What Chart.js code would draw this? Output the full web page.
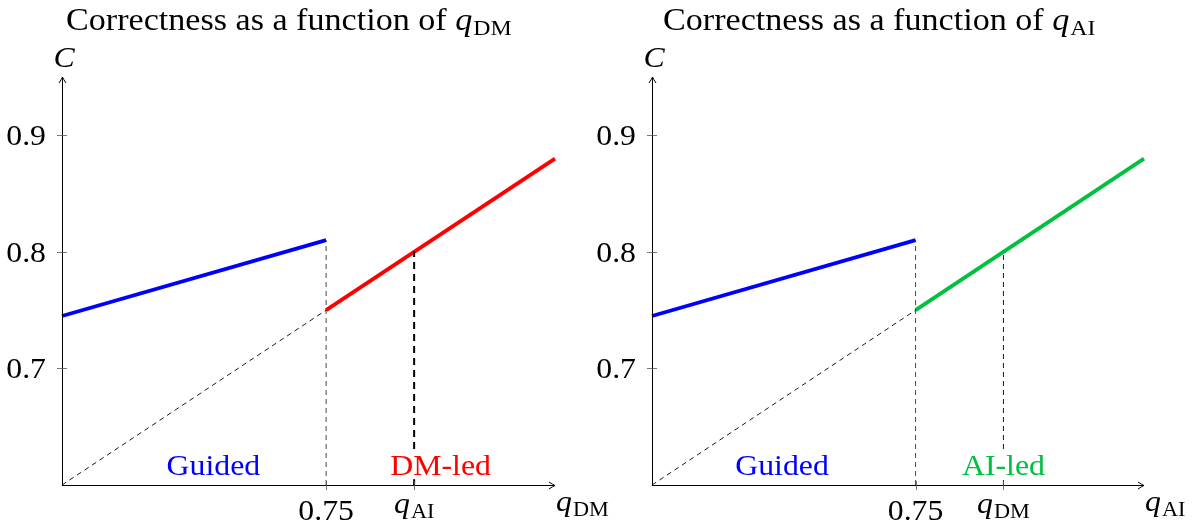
<!DOCTYPE html>
<html><head><meta charset="utf-8">
<script src="https://cdn.jsdelivr.net/npm/chart.js@4.4.0/dist/chart.umd.min.js"></script>
<style>
html,body{margin:0;padding:0;background:#fff;}
#wrap{position:relative;width:1204px;height:529px;overflow:hidden;background:#fff;}
#wrap canvas{position:absolute;left:0;top:0;}
</style></head><body>
<div id="wrap">
<canvas id="c1" width="1204" height="529"></canvas>
<canvas id="c2" width="1204" height="529"></canvas>
</div>
<script>
// ---- data ----
const xRange = [0.6, 0.88];
const yRange = [0.6, 0.95];
const yTicks = [0.7, 0.8, 0.9];
const yTickLabels = ["0.7", "0.8", "0.9"];
const thresholdQ = 0.75;
const otherQ = 0.8;
const guidedX = [0.6, 0.75];
const guidedY = [0.745, 0.81];
const ledX = [0.75, 0.88];
const ledY = [0.75, 0.88];
const diagX = [0.6, 0.75];
const diagY = [0.6, 0.75];
const threshLineY = [0.6, 0.81];
const otherLineY = [0.6, 0.8];
const panelTitles = ["Correctness as a function of ", "Correctness as a function of "];
const panelVar = ["DM", "AI"];
const panelOther = ["AI", "DM"];
const ledNames = ["DM-led", "AI-led"];
const ledColors = ["#ff0000", "#00c040"];
const guidedLabelX = [0.686, 0.674];
const ledLabelX = [0.815, 0.8];
const regionLabelY = 0.617;

const FONT = '"Liberation Serif", "Times New Roman", serif';
const STRETCH = 1.06;

function pts(xs, ys) { return xs.map((x, i) => ({ x: x, y: ys[i] })); }

function richWidth(ctx, parts, size) {
  let w = 0;
  for (const p of parts) {
    const s = p.sub ? size * 0.7 : size;
    ctx.font = (p.it ? 'italic ' : '') + s + 'px ' + FONT;
    w += ctx.measureText(p.t).width + (p.kern || 0);
  }
  return w;
}
function drawRich(ctx, parts, x, y, align, size, color, stretch) {
  stretch = stretch || STRETCH;
  const w = richWidth(ctx, parts, size) * stretch;
  let cx = align === 'center' ? x - w / 2 : (align === 'right' ? x - w : x);
  ctx.save();
  ctx.translate(cx, y);
  ctx.scale(stretch, 1);
  ctx.fillStyle = color;
  ctx.textBaseline = 'alphabetic';
  ctx.textAlign = 'left';
  let px = 0;
  for (const p of parts) {
    const s = p.sub ? size * 0.7 : size;
    ctx.font = (p.it ? 'italic ' : '') + s + 'px ' + FONT;
    ctx.fillText(p.t, px, (p.sub ? size * 0.15 : 0));
    px += ctx.measureText(p.t).width + (p.kern || 0);
  }
  ctx.restore();
  return w;
}
function plainText(ctx, t, x, y, align, size, color, baseline) {
  drawRich(ctx, [{ t: t }], x, y, align, size, color);
}
function qParts(sub) { return [{ t: 'q', it: true, kern: 1 }, { t: sub, sub: true }]; }

function arrowHead(ctx, x, y, dir) {
  ctx.save();
  ctx.translate(x, y);
  if (dir === 'up') ctx.rotate(-Math.PI / 2);
  ctx.beginPath();
  ctx.moveTo(-6, -3.5);
  ctx.quadraticCurveTo(-2, -0.8, 0, 0);
  ctx.quadraticCurveTo(-2, 0.8, -6, 3.5);
  ctx.strokeStyle = '#000';
  ctx.lineWidth = 1;
  ctx.stroke();
  ctx.restore();
}

function makePanel(id, idx, padLeft, padRight, titleX) {
  const axisPlugin = {
    id: 'tikzAxes' + idx,
    afterDatasetsDraw(chart) {
      const ctx = chart.ctx;
      const xs = chart.scales.x, ys = chart.scales.y;
      const x0 = xs.getPixelForValue(xRange[0]);
      const x1 = xs.getPixelForValue(xRange[1]);
      const y0 = ys.getPixelForValue(yRange[0]);
      const y1 = ys.getPixelForValue(yRange[1]);
      ctx.save();
      const size = 30;
      // region labels with white background
      const ly = ys.getPixelForValue(regionLabelY) + 10;
      const labels = [
        { t: 'Guided', x: xs.getPixelForValue(guidedLabelX[idx]), c: '#0000ff' },
        { t: ledNames[idx], x: xs.getPixelForValue(ledLabelX[idx]), c: ledColors[idx] }
      ];
      for (const L of labels) {
        ctx.font = size + 'px ' + FONT;
        const w = ctx.measureText(L.t).width * STRETCH;
        ctx.fillStyle = '#fff';
        ctx.fillRect(L.x - w / 2 - 3, ly - 24, w + 6, 28);
        plainText(ctx, L.t, L.x, ly, 'center', size, L.c);
      }
      // axes
      ctx.strokeStyle = '#000';
      ctx.lineWidth = 1;
      ctx.beginPath();
      ctx.moveTo(x0, y0 + 0.5); ctx.lineTo(x1 - 1, y0 + 0.5);
      ctx.moveTo(x0 + 0.5, y0); ctx.lineTo(x0 + 0.5, y1 + 1);
      ctx.stroke();
      arrowHead(ctx, x1, y0 + 0.5, 'right');
      arrowHead(ctx, x0 + 0.5, y1, 'up');
      // ticks
      ctx.strokeStyle = '#555';
      ctx.lineWidth = 0.8;
      ctx.beginPath();
      for (const t of yTicks) {
        const py = Math.round(ys.getPixelForValue(t)) + 0.5;
        ctx.moveTo(x0 - 5, py); ctx.lineTo(x0 + 5, py);
      }
      for (const t of [thresholdQ, otherQ]) {
        const px = Math.round(xs.getPixelForValue(t)) + 0.5;
        ctx.moveTo(px, y0 - 4); ctx.lineTo(px, y0 + 5);
      }
      ctx.stroke();
      // y tick labels
      yTicks.forEach((t, i) => {
        plainText(ctx, yTickLabels[i], x0 - 16, ys.getPixelForValue(t) + 10, 'right', size, '#000');
      });
      // x tick labels
      plainText(ctx, String(thresholdQ), xs.getPixelForValue(thresholdQ), y0 + 35, 'center', size, '#000');
      drawRich(ctx, qParts(panelOther[idx]), xs.getPixelForValue(otherQ), y0 + 28, 'center', size, '#000');
      // axis labels
      drawRich(ctx, qParts(panelVar[idx]), x1 + 1, y0 + 26, 'left', size, '#000');
      drawRich(ctx, [{ t: 'C', it: true }], x0 + 2, y1 - 10, 'center', size, '#000');
      // title
      drawRich(ctx, [{ t: panelTitles[idx] }].concat(qParts(panelVar[idx])), titleX, 30, 'left', 31, '#000', 1.1);
      ctx.restore();
    }
  };

  const thin = { borderColor: '#000', borderWidth: 0.9, borderDash: [5, 4] };
  new Chart(document.getElementById(id), {
    type: 'scatter',
    data: {
      datasets: [
        Object.assign({ data: pts(diagX, diagY) }, thin),
        Object.assign({ data: pts([thresholdQ, thresholdQ], threshLineY) }, thin, { borderColor: '#333' }),
        idx === 0
          ? { data: pts([otherQ, otherQ], otherLineY), borderColor: '#000', borderWidth: 2, borderDash: [7, 5] }
          : Object.assign({ data: pts([otherQ, otherQ], otherLineY) }, thin),
        { data: pts(guidedX, guidedY), borderColor: '#0000ff', borderWidth: 3.8 },
        { data: pts(ledX, ledY), borderColor: ledColors[idx], borderWidth: 3.8 }
      ].map(d => Object.assign({ showLine: true, pointRadius: 0, pointHoverRadius: 0, clip: 20, borderCapStyle: 'butt' }, d))
    },
    options: {
      responsive: false,
      animation: false,
      devicePixelRatio: 1,
      events: [],
      layout: { padding: { left: padLeft, right: padRight, top: 77, bottom: 44 } },
      plugins: { legend: { display: false }, tooltip: { enabled: false }, title: { display: false } },
      scales: {
        x: { type: 'linear', min: xRange[0], max: xRange[1], display: false },
        y: { type: 'linear', min: yRange[0], max: yRange[1], display: false }
      }
    },
    plugins: [axisPlugin]
  });
}

makePanel('c1', 0, 62, 1204 - 555, 66);
makePanel('c2', 1, 652, 1204 - 1144, 663);
</script>
</body></html>
